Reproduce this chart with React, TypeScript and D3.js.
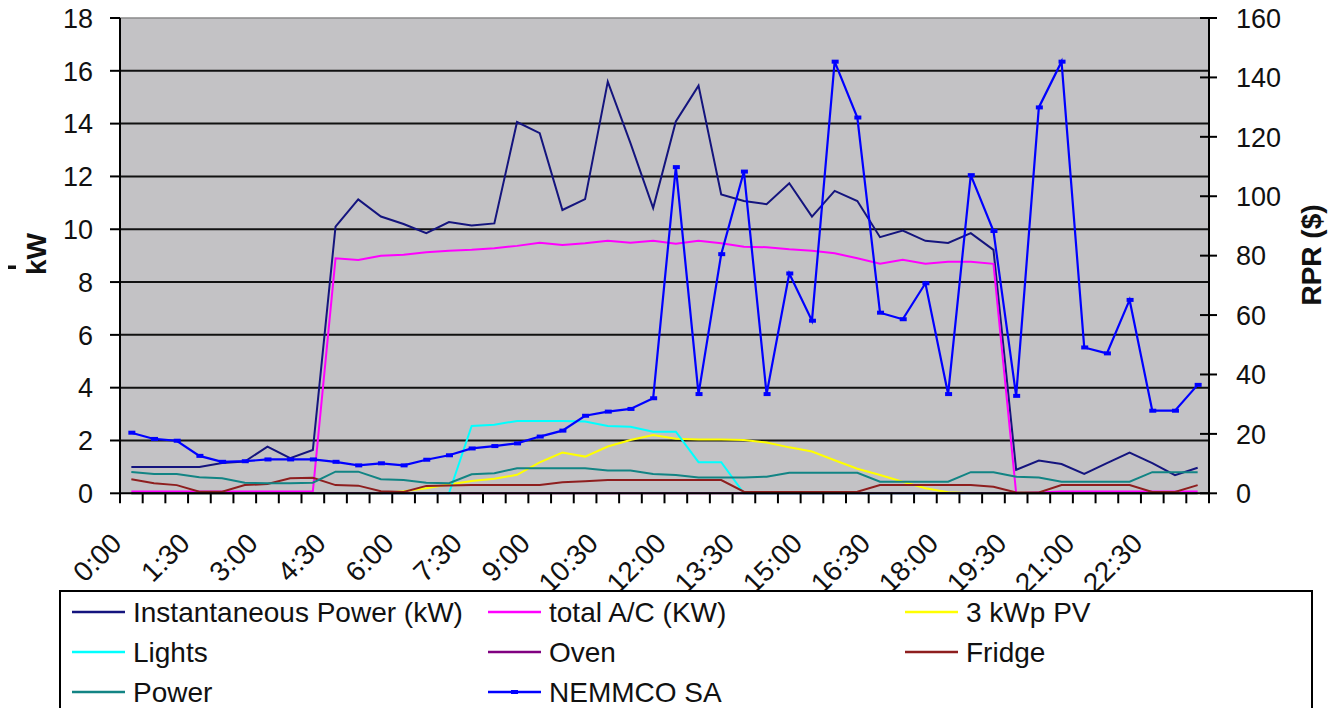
import React from "react";
import * as d3 from "d3";

// Half-hourly categories for one day
const times = [
  "0:00", "0:30", "1:00", "1:30", "2:00", "2:30", "3:00", "3:30",
  "4:00", "4:30", "5:00", "5:30", "6:00", "6:30", "7:00", "7:30",
  "8:00", "8:30", "9:00", "9:30", "10:00", "10:30", "11:00", "11:30",
  "12:00", "12:30", "13:00", "13:30", "14:00", "14:30", "15:00", "15:30",
  "16:00", "16:30", "17:00", "17:30", "18:00", "18:30", "19:00", "19:30",
  "20:00", "20:30", "21:00", "21:30", "22:00", "22:30", "23:00", "23:30",
];

// Load series (kW, left axis)
const instantaneousPower = [
  1.0, 1.0, 1.0, 1.0, 1.15, 1.2, 1.77, 1.33, 1.64, 10.1, 11.13, 10.48,
  10.2, 9.85, 10.27, 10.14, 10.22, 14.06, 13.64, 10.73, 11.14, 15.59, 13.26, 10.8,
  14.08, 15.44, 11.32, 11.07, 10.95, 11.74, 10.48, 11.45, 11.07, 9.7, 9.95, 9.56,
  9.48, 9.85, 9.22, 0.89, 1.24, 1.11, 0.73, 1.14, 1.54, 1.14, 0.69, 0.97,
];
const totalAC = [
  0.07, 0.07, 0.07, 0.07, 0.07, 0.07, 0.07, 0.07, 0.07, 8.9, 8.84, 9.0,
  9.03, 9.13, 9.19, 9.22, 9.28, 9.37, 9.49, 9.4, 9.47, 9.56, 9.49, 9.56,
  9.45, 9.56, 9.47, 9.34, 9.32, 9.24, 9.19, 9.09, 8.9, 8.69, 8.84, 8.69,
  8.77, 8.77, 8.69, 0, 0.03, 0.07, 0.07, 0.07, 0.07, 0.07, 0.07, 0.07,
];
const pv = [
  0, 0, 0, 0, 0, 0, 0, 0, 0, 0, 0, 0,
  0.08, 0.19, 0.33, 0.47, 0.55, 0.7, 1.17, 1.54, 1.39, 1.77, 2.02, 2.21,
  2.07, 2.04, 2.04, 2.02, 1.92, 1.74, 1.58, 1.25, 0.93, 0.69, 0.44, 0.19,
  0.04, 0, 0, 0, 0, 0, 0, 0, 0, 0, 0, 0,
];
const lights = [
  0, 0, 0, 0, 0, 0, 0, 0, 0, 0, 0, 0,
  0, 0, 0, 2.55, 2.6, 2.74, 2.74, 2.74, 2.72, 2.55, 2.52, 2.33,
  2.33, 1.18, 1.18, 0, 0, 0, 0, 0, 0, 0, 0, 0,
  0, 0, 0, 0, 0, 0, 0, 0, 0, 0, 0, 0,
];
const oven = [
  0, 0, 0, 0, 0, 0, 0, 0, 0, 0, 0, 0,
  0, 0, 0, 0, 0, 0, 0, 0, 0, 0, 0, 0,
  0, 0, 0, 0, 0, 0, 0, 0, 0, 0, 0, 0,
  0, 0, 0, 0, 0, 0, 0, 0, 0, 0, 0, 0,
];
const fridge = [
  0.53, 0.38, 0.31, 0.06, 0.06, 0.31, 0.35, 0.57, 0.59, 0.31, 0.29, 0.08,
  0.05, 0.28, 0.3, 0.31, 0.31, 0.31, 0.31, 0.42, 0.46, 0.5, 0.5, 0.5,
  0.5, 0.5, 0.5, 0.06, 0.05, 0.05, 0.05, 0.05, 0.06, 0.31, 0.31, 0.31,
  0.31, 0.31, 0.25, 0.03, 0.03, 0.31, 0.31, 0.31, 0.31, 0.05, 0.05, 0.31,
];
const power = [
  0.81, 0.73, 0.73, 0.61, 0.57, 0.4, 0.38, 0.38, 0.4, 0.82, 0.82, 0.53,
  0.5, 0.4, 0.38, 0.72, 0.76, 0.95, 0.95, 0.95, 0.95, 0.86, 0.86, 0.73,
  0.69, 0.6, 0.6, 0.6, 0.63, 0.78, 0.78, 0.78, 0.78, 0.44, 0.44, 0.44,
  0.44, 0.8, 0.8, 0.63, 0.6, 0.44, 0.44, 0.44, 0.44, 0.8, 0.8, 0.8,
];

// Regional reference price ($, right axis)
const nemmcoSA = [
  20.4, 18.3, 17.7, 12.6, 10.6, 10.8, 11.4, 11.4, 11.4, 10.6, 9.4, 10.1,
  9.4, 11.3, 12.8, 15.1, 15.9, 16.8, 19.1, 21.1, 26.1, 27.5, 28.4, 32.0,
  109.8, 33.4, 80.5, 108.3, 33.4, 74.0, 58.1, 145.3, 126.5, 60.8, 58.6, 70.7,
  33.4, 107.1, 88.3, 32.8, 129.9, 145.3, 49.1, 47.1, 65.1, 27.8, 27.8, 36.5,
];

const leftTicks = [0, 2, 4, 6, 8, 10, 12, 14, 16, 18];
const rightTicks = [0, 20, 40, 60, 80, 100, 120, 140, 160];

const primarySeries = [
  { name: "Instantaneous Power (kW)", values: instantaneousPower, color: "#14147e" },
  { name: "total A/C (KW)", values: totalAC, color: "#ff00ff" },
  { name: "3 kWp PV", values: pv, color: "#ffff00" },
  { name: "Lights", values: lights, color: "#00ffff" },
  { name: "Oven", values: oven, color: "#800080" },
  { name: "Fridge", values: fridge, color: "#8e1e1e" },
  { name: "Power", values: power, color: "#128484" },
];
const priceSeries = { name: "NEMMCO SA", values: nemmcoSA, color: "#0000ff" };

const FONT = "'Liberation Sans', Arial, sans-serif";

export default function App() {
  const left = 120;
  const right = 1209;
  const top = 18;
  const bottom = 493.3;

  const x = d3.scaleBand<string>().domain(times).range([left, right]).padding(0);
  const cx = (i: number) => (x(times[i]) as number) + x.bandwidth() / 2;
  const yL = d3.scaleLinear().domain([0, 18]).range([bottom, top]);
  const yR = d3.scaleLinear().domain([0, 160]).range([bottom, top]);

  const lineL = d3.line<number>().x((_, i) => cx(i)).y((d) => yL(d));
  const lineR = d3.line<number>().x((_, i) => cx(i)).y((d) => yR(d));

  const boundaries = times.map((t) => x(t) as number).concat([right]);

  const legendItems = [
    { ...primarySeries[0], col: 0, row: 0 },
    { ...primarySeries[1], col: 1, row: 0 },
    { ...primarySeries[2], col: 2, row: 0 },
    { ...primarySeries[3], col: 0, row: 1 },
    { ...primarySeries[4], col: 1, row: 1 },
    { ...primarySeries[5], col: 2, row: 1 },
    { ...primarySeries[6], col: 0, row: 2 },
    { ...priceSeries, col: 1, row: 2, marker: true },
  ];
  const colX = [72, 488, 905];
  const rowY = [612, 652, 692];

  return (
    <svg
      width={1333}
      height={708}
      style={{ position: "absolute", left: 0, top: 0, background: "#fff" }}
      fontFamily={FONT}
    >
      {/* plot area */}
      <rect x={left} y={top} width={right - left} height={bottom - top} fill="#c3c2c5" />
      <line x1={left} x2={right} y1={top} y2={top} stroke="#8a8a8a" strokeWidth={1.5} />
      {leftTicks
        .filter((t) => t > 0 && t < 18)
        .map((t) => (
          <line key={"g" + t} x1={left} x2={right} y1={yL(t)} y2={yL(t)} stroke="#111" strokeWidth={2} />
        ))}

      {/* series on the kW axis */}
      {primarySeries.map((s) => (
        <path key={s.name} d={lineL(s.values) as string} fill="none" stroke={s.color} strokeWidth={2} strokeLinejoin="miter" />
      ))}

      {/* axes */}
      <line x1={left} x2={left} y1={top} y2={bottom + 1} stroke="#000" strokeWidth={2} />
      <line x1={right} x2={right} y1={top} y2={bottom + 1} stroke="#000" strokeWidth={2} />
      <line x1={left} x2={right} y1={bottom} y2={bottom} stroke="#000" strokeWidth={2} />
      {leftTicks.map((t) => (
        <g key={"lt" + t}>
          <line x1={left - 10} x2={left} y1={yL(t)} y2={yL(t)} stroke="#000" strokeWidth={2} />
          <text x={93} y={yL(t)} dy="0.36em" textAnchor="end" fontSize={27} fill="#111">
            {t}
          </text>
        </g>
      ))}
      {rightTicks.map((t) => (
        <g key={"rt" + t}>
          <line x1={right - 9} x2={right + 8} y1={yR(t)} y2={yR(t)} stroke="#000" strokeWidth={2} />
          <text x={1236} y={yR(t)} dy="0.36em" textAnchor="start" fontSize={27} fill="#111">
            {t}
          </text>
        </g>
      ))}
      {boundaries.map((b, i) => (
        <line key={"xt" + i} x1={b} x2={b} y1={bottom} y2={bottom + 10} stroke="#000" strokeWidth={2} />
      ))}
      {times.map((t, i) =>
        i % 3 === 0 ? (
          <text
            key={"xl" + t}
            transform={`translate(${cx(i) - 8},545) rotate(-45)`}
            textAnchor="end"
            fontSize={28}
            fill="#111"
          >
            {t}
          </text>
        ) : null
      )}

      {/* price series on the $ axis */}
      <path d={lineR(priceSeries.values) as string} fill="none" stroke={priceSeries.color} strokeWidth={2.2} />
      {priceSeries.values.map((v, i) => (
        <rect key={"m" + i} x={cx(i) - 3} y={yR(v) - 2} width={7} height={4} fill={priceSeries.color} />
      ))}

      {/* axis titles */}
      <text transform="translate(46,254) rotate(-90)" textAnchor="middle" fontSize={28} fontWeight="bold" fill="#111">
        kW
      </text>
      <rect x={8} y={265.5} width={8} height={3.5} fill="#111" />
      <text transform="translate(1321,255) rotate(-90)" textAnchor="middle" fontSize={28} fontWeight="bold" fill="#111">
        RPR ($)
      </text>

      {/* legend */}
      <rect x={60} y={591} width={1252} height={140} fill="#fff" stroke="#000" strokeWidth={2} />
      {legendItems.map((it) => (
        <g key={"lg" + it.name}>
          <line
            x1={colX[it.col]}
            x2={colX[it.col] + 53}
            y1={rowY[it.row]}
            y2={rowY[it.row]}
            stroke={it.color}
            strokeWidth={2.5}
          />
          {"marker" in it && it.marker ? (
            <rect x={colX[it.col] + 23} y={rowY[it.row] - 2} width={7} height={4} fill={it.color} />
          ) : null}
          <text x={colX[it.col] + 61} y={rowY[it.row]} dy="0.36em" fontSize={28} fill="#111">
            {it.name}
          </text>
        </g>
      ))}
    </svg>
  );
}
